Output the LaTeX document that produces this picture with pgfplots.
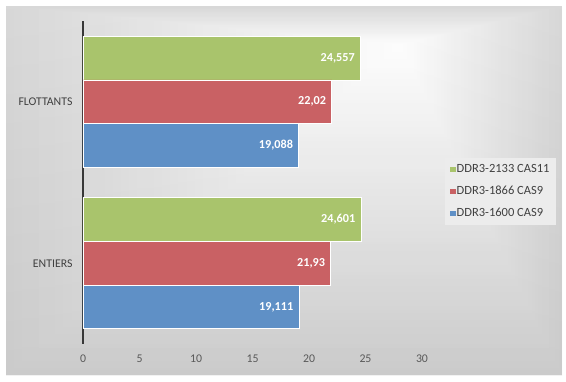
\documentclass[border=0pt]{standalone}
\usepackage{pgfplots}
\pgfplotsset{compat=1.18}
\usepackage{fontspec}
\setmainfont{Carlito}
\definecolor{cgreen}{RGB}{169,196,108}
\definecolor{cred}{RGB}{201,97,100}
\definecolor{cblue}{RGB}{95,144,198}
\definecolor{edgeC}{RGB}{214,214,214}
\definecolor{legfill}{RGB}{236,236,236}
\newcommand{\cf}{\fontsize{11.8}{14}\selectfont}
\begin{document}
\begin{tikzpicture}[x=1pt,y=1pt]
\fill[white] (0,0) rectangle (566,381);
% rectangular (path) gradient: nested rectangles from frame to centre
\foreach \k in {0,...,47}{
  \pgfmathsetmacro{\t}{\k/48}
  \pgfmathsetmacro{\pc}{100*\t}
  \pgfmathsetmacro{\xa}{6+(400-6)*\t}
  \pgfmathsetmacro{\xb}{562-(562-400)*\t}
  \pgfmathsetmacro{\ya}{6+(336-6)*\t}
  \pgfmathsetmacro{\yb}{375-(375-336)*\t}
  \fill[white!\pc!edgeC] (\xa,\ya) rectangle (\xb,\yb);
}
\shade[top color=white, bottom color=black, opacity=0.05] (6,6) rectangle (562,375);
\begin{axis}[
  at={(83pt,37pt)}, anchor=south west,
  scale only axis, width=339pt, height=323pt,
  xbar, bar width=0.27,
  xmin=0, xmax=30, ymin=-0.5, ymax=1.5,
  xtick={0,5,...,30}, ytick={0,1},
  yticklabels={ENTIERS,FLOTTANTS},
  axis x line*=bottom, axis y line*=left,
  x axis line style={draw=none},
  y axis line style={draw=black!78, line width=2pt, -},
  major tick length=0pt,
  /pgf/number format/assume math mode=true,
  /pgf/number format/use comma,
  /pgf/number format/precision=3,
  /pgf/number format/1000 sep={},
  xticklabel style={font=\cf, text=black!65, yshift=-7pt},
  yticklabel style={font=\cf, text=black!75, xshift=-7pt},
  point meta=x,
  nodes near coords,
  every node near coord/.append style={anchor=east, font=\bfseries\fontsize{12.2}{14}\selectfont, text=white, xshift=-2pt},
  legend style={at={(1.068,0.472)}, anchor=west, fill=legfill, draw=none,
    font=\fontsize{12.5}{14}\selectfont, text=black!75, row sep=10pt, inner xsep=5pt, inner ysep=6pt,
    nodes={inner sep=1pt}},
  legend cell align=left,
  legend image code/.code={\path[#1,draw=none] (0pt,-2.75pt) rectangle (5.5pt,2.75pt);},
]
\addplot[fill=cgreen, draw=white, line width=0.8pt, bar shift=0.27] coordinates {(24.601,0) (24.557,1)};
\addlegendentry{DDR3-2133 CAS11}
\addplot[fill=cred, draw=white, line width=0.8pt, bar shift=0] coordinates {(21.93,0) (22.02,1)};
\addlegendentry{DDR3-1866 CAS9}
\addplot[fill=cblue, draw=white, line width=0.8pt, bar shift=-0.27] coordinates {(19.111,0) (19.088,1)};
\addlegendentry{DDR3-1600 CAS9}
\end{axis}
\end{tikzpicture}
\end{document}
